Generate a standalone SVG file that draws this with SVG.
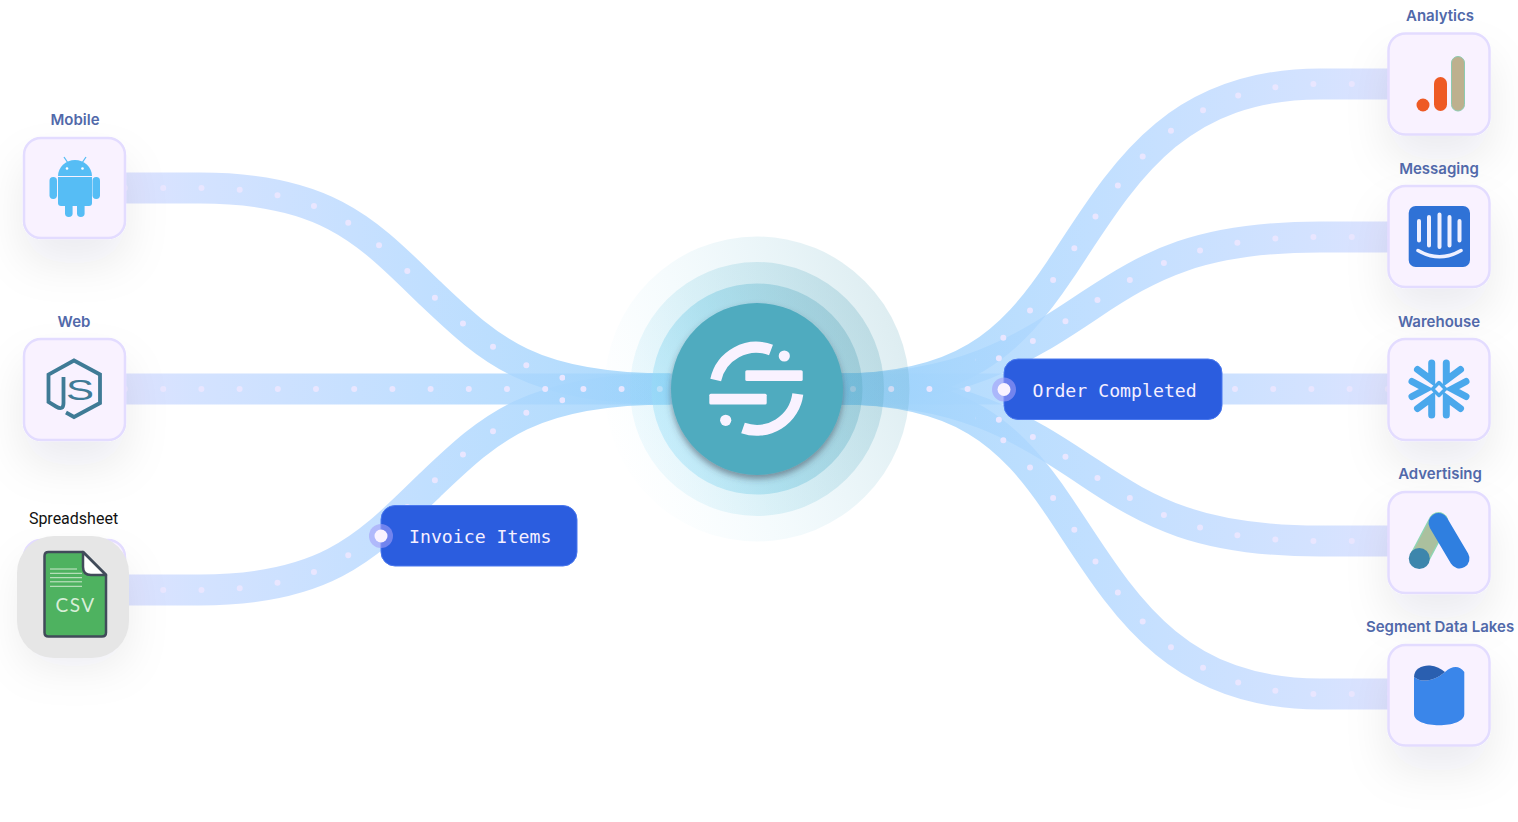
<svg xmlns="http://www.w3.org/2000/svg" width="1518" height="822" viewBox="0 0 1518 822">
<style>
.band{fill:none;stroke-width:31;opacity:.82}
.l{stroke:url(#bandL)}
.r{stroke:url(#bandR)}
.dots{fill:none;stroke:#e9e6ff;stroke-width:6;stroke-linecap:round;stroke-dasharray:0 38.2}
.box{fill:#f9f2ff;stroke:#e3dcff;stroke-width:2.5}
.shadow{filter:url(#soft)}
.label{font-family:Inter,"Liberation Sans",sans-serif;font-size:15px;font-weight:600;fill:#5169aa;text-anchor:middle}
.btn{fill:#2b5ddf;stroke:#4a78ee;stroke-width:1}
.btnText{font-family:"DejaVu Sans Mono","Liberation Mono",monospace;font-size:18.2px;fill:#f5efff}
.halo{fill:#a29ff8;opacity:.6}
.pin{fill:#faf3ff}
.logo{fill:#f9f2ff}
.arc{fill:none;stroke:#f9f2ff;stroke-width:11}
</style>
<defs>
<linearGradient id="bandL" gradientUnits="userSpaceOnUse" x1="125" y1="0" x2="670" y2="0">
<stop offset="0" stop-color="#d6dcff"/><stop offset=".12" stop-color="#cbdcff"/><stop offset=".55" stop-color="#b3d8ff"/><stop offset="1" stop-color="#9cd3fb"/>
</linearGradient>
<linearGradient id="bandR" gradientUnits="userSpaceOnUse" x1="1390" y1="0" x2="845" y2="0">
<stop offset="0" stop-color="#d6dcff"/><stop offset=".12" stop-color="#cbdcff"/><stop offset=".55" stop-color="#b3d8ff"/><stop offset="1" stop-color="#9cd3fb"/>
</linearGradient>
<linearGradient id="ring1" x1="0" y1=".7" x2="1" y2=".3">
<stop offset="0" stop-color="#8fdcf7" stop-opacity="0"/><stop offset=".3" stop-color="#7fd0ea" stop-opacity=".06"/><stop offset="1" stop-color="#4f9fb4" stop-opacity=".2"/>
</linearGradient>
<linearGradient id="ring2" x1="0" y1=".7" x2="1" y2=".3">
<stop offset="0" stop-color="#8fdcf7" stop-opacity=".12"/><stop offset=".4" stop-color="#6fc8e0" stop-opacity=".2"/><stop offset="1" stop-color="#4f9fb4" stop-opacity=".25"/>
</linearGradient>
<linearGradient id="ring3" x1="0" y1=".7" x2="1" y2=".3">
<stop offset="0" stop-color="#9fe2fb" stop-opacity=".45"/><stop offset=".45" stop-color="#6cc6e0" stop-opacity=".4"/><stop offset="1" stop-color="#4f9fb4" stop-opacity=".3"/>
</linearGradient>
<filter id="soft" x="-80%" y="-80%" width="260%" height="280%"><feDropShadow dx="0" dy="24" stdDeviation="22" flood-color="#1a2a4a" flood-opacity=".08"/></filter>
<filter id="hub" x="-30%" y="-30%" width="160%" height="160%"><feDropShadow dx="0" dy="4" stdDeviation="3" flood-color="#3a3a4a" flood-opacity=".5"/></filter>
<clipPath id="clipL"><rect x="0" y="0" width="565" height="822"/></clipPath>
<clipPath id="clipR"><rect x="975" y="0" width="543" height="822"/></clipPath>
<path id="pMobile" d="M125 188 L200 188 C330 188 370 235 430 293 C490 350 530 389 670 389"/>
<path id="pWeb" d="M125 389 L675 389"/>
<path id="pSheet" d="M125 590 L200 590 C330 590 370 543 430 485 C490 428 530 389 670 389"/>
<path id="pAna" d="M1390 84 L1320 84 C1170 84 1120 180 1060 270 C1010 345 960 389 838 389"/>
<path id="pMsg" d="M1390 237 L1320 237 C1200 237 1150 265 1090 305 C1020 352 960 389 838 389"/>
<path id="pWare" d="M838 389 L1390 389"/>
<path id="pWareDots" d="M853 389 L1390 389"/>
<path id="pAds" d="M1390 541 L1320 541 C1200 541 1150 513 1090 473 C1020 426 960 389 838 389"/>
<path id="pLake" d="M1390 694 L1320 694 C1170 694 1120 598 1060 508 C1010 433 960 389 838 389"/>
</defs>
<rect width="1518" height="822" fill="#ffffff"/>
<g id="connectors">
<use href="#pMobile" class="band l"/><use href="#pWeb" class="band l"/><use href="#pSheet" class="band l"/>
<use href="#pAna" class="band r"/><use href="#pMsg" class="band r"/><use href="#pWare" class="band r"/><use href="#pAds" class="band r"/><use href="#pLake" class="band r"/>
<use href="#pWeb" class="dots"/><use href="#pWareDots" class="dots"/>
<g clip-path="url(#clipL)"><use href="#pMobile" class="dots"/><use href="#pSheet" class="dots"/></g>
<g clip-path="url(#clipR)"><use href="#pAna" class="dots"/><use href="#pMsg" class="dots"/><use href="#pAds" class="dots"/><use href="#pLake" class="dots"/></g>
</g>
<g id="hub">
<circle cx="757" cy="389" r="152.5" fill="url(#ring1)"/>
<circle cx="757" cy="389" r="127" fill="url(#ring2)"/>
<circle cx="757" cy="389" r="105.5" fill="url(#ring3)"/>
<circle cx="757" cy="389" r="86" fill="#50abbf" filter="url(#hub)"/>
<rect class="logo" x="745.3" y="370.3" width="57.4" height="10.7" rx="1.5"/>
<rect class="logo" x="709.3" y="393.8" width="57.4" height="10.7" rx="1.5"/>
<circle class="logo" cx="784.3" cy="356" r="5.6"/>
<circle class="logo" cx="725.7" cy="420.3" r="5.6"/>
<path class="arc" d="M715.7 380 A41.5 41.5 0 0 1 771 350"/>
<path class="arc" d="M797.8 394 A41.5 41.5 0 0 1 743 428"/>
</g>
<g id="node-mobile">
<text class="label" x="75" y="125">Mobile</text>
<rect class="box shadow" x="24" y="138" width="101" height="100" rx="17"/>
<g fill="#56bdf5">
<rect x="49.5" y="177" width="7.5" height="22" rx="3.7"/><rect x="92.5" y="177" width="7.5" height="22" rx="3.7"/>
<path d="M58 177 H92 V203 Q92 206 89 206 H61 Q58 206 58 203 Z"/>
<path d="M58 176 A17 16 0 0 1 92 176 Z"/>
<rect x="65" y="200" width="7.6" height="17" rx="3.8"/><rect x="77" y="200" width="7.6" height="17" rx="3.8"/>
</g>
<path d="M64 157 L68 163 M86 157 L82 163" stroke="#56bdf5" stroke-width="1.3" fill="none"/>
<circle cx="67" cy="168.500" r="1.300" fill="#fff"/><circle cx="82.500" cy="168.500" r="1.300" fill="#fff"/>
</g>
<g id="node-web">
<text class="label" x="74" y="327">Web</text>
<rect class="box shadow" x="24" y="339" width="101" height="101" rx="17"/>
<path d="M63.500 377 V403 Q63.500 411 56 406.500 L48.500 402 V374.500 L74 360.500 L100 374.500 V403 L74 417 L66 412.500" fill="none" stroke="#3f7b96" stroke-width="3.800"/>
<text x="66" y="400" font-family="'Liberation Sans',sans-serif" font-size="30" fill="#3f7b96" textLength="28" lengthAdjust="spacingAndGlyphs">S</text>
</g>
<g id="node-spreadsheet">
<text x="73.500" y="524" text-anchor="middle" font-family="Roboto,'Liberation Sans',sans-serif" font-size="16" fill="#111">Spreadsheet</text>
<rect class="box shadow" x="24" y="540" width="101" height="101" rx="17"/>
<rect x="17" y="536" width="112" height="122" rx="37" fill="#e6e6e6"/>
<path d="M83 552 H48.500 Q44.500 552 44.500 556 V632.500 Q44.500 636.500 48.500 636.500 H102 Q106 636.500 106 632.500 V575 Z" fill="#4eb260" stroke="#414b5a" stroke-width="2.500" stroke-linejoin="round"/>
<path d="M83 552 V567 Q83 575 91 575 H106 Z" fill="#fff" stroke="#414b5a" stroke-width="2.500" stroke-linejoin="round"/>
<path d="M50 569 H77 M50 573.300 H82 M50 577.700 H82 M50 581.800 H82 M50 586.300 H82" stroke="#cfe9cf" stroke-width="1" fill="none"/>
<text x="75.500" y="611.500" text-anchor="middle" font-family="Lato,'Liberation Sans',sans-serif" font-size="19" letter-spacing="1.500" fill="#d8eed8">CSV</text>
</g>
<g id="node-invoice">
<rect class="btn" x="381" y="505.500" width="196" height="60.500" rx="14"/>
<circle class="halo" cx="381" cy="536" r="12"/><circle class="pin" cx="381" cy="536" r="6.500"/>
<text class="btnText" x="409" y="543">Invoice Items</text>
</g>
<g id="node-order">
<rect class="btn" x="1004" y="359" width="218" height="60.500" rx="14"/>
<circle class="halo" cx="1004" cy="389.500" r="12"/><circle class="pin" cx="1004" cy="389.500" r="6.500"/>
<text class="btnText" x="1032.500" y="397">Order Completed</text>
</g>
<g id="node-analytics">
<text class="label" x="1440" y="21">Analytics</text>
<rect class="box shadow" x="1388.500" y="33.500" width="101" height="101" rx="17"/>
<circle cx="1423" cy="105" r="6.500" fill="#ee5a24"/>
<rect x="1434" y="77" width="13" height="34" rx="6.500" fill="#ee5a24"/>
<rect x="1451.500" y="56.500" width="13" height="54.500" rx="6.500" fill="#bdb08e" stroke="#8ccbb0" stroke-width="1"/>
</g>
<g id="node-messaging">
<text class="label" x="1439" y="174">Messaging</text>
<rect class="box shadow" x="1388.500" y="186" width="101" height="101" rx="17"/>
<rect x="1408.700" y="206" width="61.300" height="61" rx="7" fill="#2f72d6"/>
<path d="M1419 221 V240.500 M1429 217 V245.500 M1439.500 214.500 V247 M1449.500 217 V245.500 M1459.500 221 V240.500" stroke="#eff0ff" stroke-width="4" stroke-linecap="round" fill="none"/>
<path d="M1418 250.500 Q1439.500 263 1461 250.500" stroke="#eff0ff" stroke-width="3.500" stroke-linecap="round" fill="none"/>
</g>
<g id="node-warehouse">
<text class="label" x="1439" y="327">Warehouse</text>
<rect class="box shadow" x="1388.500" y="339" width="101" height="101" rx="17"/>
<g fill="none" stroke="#4aa8ec" stroke-width="7" stroke-linecap="round" stroke-linejoin="miter">
<path d="M1431.700 363 V380 L1417.500 369.500"/><path d="M1446.300 363 V380 L1460.500 369.500"/>
<path d="M1431.700 415 V398 L1417.500 408.500"/><path d="M1446.300 415 V398 L1460.500 408.500"/>
<path d="M1412 381.500 L1426 389 L1412 396.500"/><path d="M1466 381.500 L1452 389 L1466 396.500"/>
</g>
<path d="M1439 382.500 L1445.500 389 L1439 395.500 L1432.500 389 Z" fill="none" stroke="#4aa8ec" stroke-width="3.500" stroke-linejoin="round"/>
</g>
<g id="node-advertising">
<text class="label" x="1440" y="479">Advertising</text>
<rect class="box shadow" x="1388.500" y="492" width="101" height="101" rx="17"/>
<path d="M1438.500 522 L1419.500 558" stroke="#8fd6b4" stroke-width="20" stroke-linecap="round" fill="none"/>
<path d="M1438.500 522 L1419.500 558" stroke="#abc09e" stroke-width="17.500" stroke-linecap="round" fill="none"/>
<circle cx="1419.300" cy="558.500" r="10.500" fill="#3d86ac"/>
<path d="M1438.500 523 L1459.500 558.500" stroke="#2f7fe0" stroke-width="20" stroke-linecap="round" fill="none"/>
</g>
<g id="node-lakes">
<text class="label" x="1440" y="632">Segment Data Lakes</text>
<rect class="box shadow" x="1388.500" y="645" width="101" height="100.500" rx="17"/>
<path d="M1414 677 C1422 684 1436 680 1445 672 C1452 666 1459 665 1464.300 672 V714 C1464.300 729 1414 729 1414 714 Z" fill="#3a86ea"/>
<path d="M1414 677 C1414 668 1423 665 1430 665.500 C1436 666 1441 669 1445 672 C1436 680 1422 684 1414 677 Z" fill="#2a5fb0"/>
</g>
</svg>
